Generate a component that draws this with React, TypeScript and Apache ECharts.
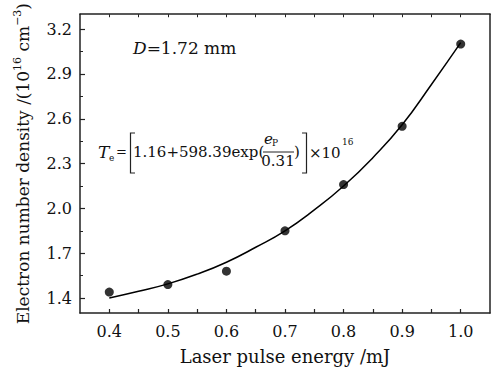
import React, { useEffect, useRef } from "react";
import * as echarts from "echarts";

const energy = [0.4, 0.5, 0.6, 0.7, 0.8, 0.9, 1.0];
const density = [1.44, 1.49, 1.58, 1.85, 2.16, 2.55, 3.1];
const fitEnergy = [0.4, 0.45, 0.5, 0.55, 0.6, 0.65, 0.7, 0.75, 0.8, 0.85, 0.9, 0.95, 1.0];
const fitDensity = [1.4, 1.445, 1.495, 1.56, 1.64, 1.74, 1.85, 1.99, 2.15, 2.34, 2.56, 2.83, 3.11];
const xTickLabels = [0.4, 0.5, 0.6, 0.7, 0.8, 0.9, 1.0];
const xTicks = [0.4, 0.45, 0.5, 0.55, 0.6, 0.65, 0.7, 0.75, 0.8, 0.85, 0.9, 0.95, 1.0];
const yTickLabels = [1.4, 1.7, 2.0, 2.3, 2.6, 2.9, 3.2];
const yMinorTicks = [1.55, 1.85, 2.15, 2.45, 2.75, 3.05];

const FONT = "DejaVu Serif";
const INK = "#111";
const AXIS = "#222";

export default function App() {
  const ref = useRef<HTMLDivElement>(null);
  useEffect(() => {
    if (!ref.current) return;
    const chart = echarts.init(ref.current, undefined, { renderer: "svg" });
    const axisLine = { show: true, lineStyle: { color: AXIS, width: 1.5 } };
    const fmt = (v: number) => v.toFixed(1);
    chart.setOption({
      animation: false,
      backgroundColor: "#fff",
      grid: { left: 80, right: 8, top: 9, bottom: 57, containLabel: false },
      xAxis: [
        {
          type: "value",
          min: 0.35,
          max: 1.05,
          position: "bottom",
          axisLine,
          splitLine: { show: false },
          axisTick: { show: true, inside: true, length: 4, customValues: xTicks, lineStyle: { color: AXIS, width: 1.2 } },
          axisLabel: { customValues: xTickLabels, formatter: fmt, margin: 10, fontFamily: FONT, fontSize: 16, color: INK },
          name: "Laser pulse energy /mJ",
          nameLocation: "middle",
          nameGap: 34,
          nameTextStyle: { fontFamily: FONT, fontSize: 18, color: INK },
        },
        {
          type: "value",
          min: 0.35,
          max: 1.05,
          position: "top",
          axisLine,
          splitLine: { show: false },
          axisTick: { show: true, inside: true, length: 3, customValues: xTicks, lineStyle: { color: AXIS, width: 1 } },
          axisLabel: { show: false },
        },
      ],
      yAxis: [
        {
          type: "value",
          min: 1.3,
          max: 3.3,
          position: "left",
          axisLine,
          splitLine: { show: false },
          axisTick: { show: true, inside: true, length: 5, customValues: yTickLabels, lineStyle: { color: AXIS, width: 1.2 } },
          axisLabel: { customValues: yTickLabels, formatter: fmt, margin: 8, fontFamily: FONT, fontSize: 16, color: INK, padding: [3, 0, 0, 0] },
          name: "Electron number density /(10{sup|16} cm{sup|\u22123})",
          nameLocation: "middle",
          nameRotate: 90,
          nameGap: 46,
          nameTextStyle: {
            fontFamily: FONT,
            fontSize: 17,
            color: INK,
            lineHeight: 22,
            rich: {
              sup: { fontFamily: FONT, fontSize: 11, color: INK, verticalAlign: "top", lineHeight: 14 },
            },
          },
        },
        {
          type: "value",
          min: 1.3,
          max: 3.3,
          position: "right",
          axisLine,
          splitLine: { show: false },
          axisTick: { show: false },
          axisLabel: { show: false },
        },
        {
          type: "value",
          min: 1.3,
          max: 3.3,
          position: "left",
          offset: 0,
          axisLine: { show: false },
          splitLine: { show: false },
          axisTick: { show: true, inside: true, length: 3, customValues: yMinorTicks, lineStyle: { color: AXIS, width: 1 } },
          axisLabel: { show: false },
        },
      ],
      series: [
        {
          type: "line",
          data: fitEnergy.map((x, i) => [x, fitDensity[i]]),
          smooth: true,
          showSymbol: false,
          lineStyle: { color: "#000", width: 1.5 },
          z: 2,
        },
        {
          type: "scatter",
          data: energy.map((x, i) => [x, density[i]]),
          symbol: "circle",
          symbolSize: 9,
          itemStyle: { color: "#000" },
          z: 3,
        },
      ],
      graphic: [
        {
          type: "text",
          x: 133,
          y: 48,
          style: {
            text: "{i|D}=1.72 mm",
            fontFamily: FONT,
            fontSize: 17,
            fill: INK,
            verticalAlign: "middle",
            rich: { i: { fontFamily: FONT, fontSize: 17, fontStyle: "italic", fill: INK } },
          },
        },
        { type: "text", x: 98, y: 152, style: { text: "T", fontFamily: FONT, fontSize: 17, fontStyle: "italic", fill: INK, verticalAlign: "middle" } },
        { type: "text", x: 109, y: 158, style: { text: "e", fontFamily: FONT, fontSize: 9, fill: INK, verticalAlign: "middle" } },
        { type: "text", x: 116, y: 151, style: { text: "=", fontFamily: FONT, fontSize: 13, fill: INK, verticalAlign: "middle" } },
        {
          type: "polyline",
          shape: { points: [[135, 133], [130.5, 133], [130.5, 173], [135, 173]] },
          style: { stroke: AXIS, lineWidth: 1.2, fill: "none" },
        },
        { type: "text", x: 133, y: 152, style: { text: "1.16+598.39exp(", fontFamily: FONT, fontSize: 15, fill: INK, verticalAlign: "middle" } },
        { type: "text", x: 264, y: 139, style: { text: "e", fontFamily: FONT, fontSize: 15, fontStyle: "italic", fill: INK, verticalAlign: "middle" } },
        { type: "text", x: 272, y: 143, style: { text: "P", fontFamily: FONT, fontSize: 9, fill: INK, verticalAlign: "middle" } },
        { type: "line", shape: { x1: 263, y1: 152, x2: 294, y2: 152 }, style: { stroke: AXIS, lineWidth: 1 } },
        { type: "text", x: 278, y: 161, style: { text: "0.31", fontFamily: FONT, fontSize: 15, fill: INK, align: "center", verticalAlign: "middle" } },
        { type: "text", x: 294, y: 152, style: { text: ")", fontFamily: FONT, fontSize: 15, fill: INK, verticalAlign: "middle" } },
        {
          type: "polyline",
          shape: { points: [[302, 133], [306.5, 133], [306.5, 173], [302, 173]] },
          style: { stroke: AXIS, lineWidth: 1.2, fill: "none" },
        },
        { type: "text", x: 309, y: 153, style: { text: "\u00d710", fontFamily: FONT, fontSize: 15, fill: INK, verticalAlign: "middle" } },
        { type: "text", x: 342, y: 142, style: { text: "16", fontFamily: FONT, fontSize: 9, fill: INK, verticalAlign: "middle" } },
      ],
    });
    return () => chart.dispose();
  }, []);
  return <div ref={ref} style={{ position: "fixed", left: 0, top: 0, width: 498, height: 370 }} />;
}
